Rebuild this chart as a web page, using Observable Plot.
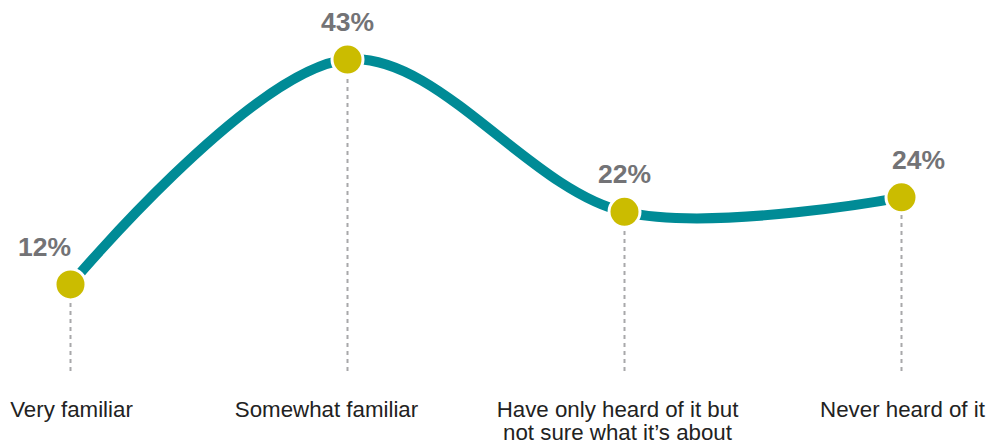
<!DOCTYPE html>
<html>
<head>
<meta charset="utf-8">
<script src="https://cdn.jsdelivr.net/npm/d3@7"></script>
<script src="https://cdn.jsdelivr.net/npm/@observablehq/plot@0.6"></script>
<style>
  html, body { margin: 0; padding: 0; background: #fff; }
  body { width: 1002px; height: 445px; overflow: hidden; }
</style>
</head>
<body>
<div id="chart"></div>
<script>
const categories = ["Very familiar", "Somewhat familiar", "Have only heard of it but\nnot sure what it\u2019s about", "Never heard of it"];
const values = [12, 43, 22, 24];
const valueLabels = ["12%", "43%", "22%", "24%"];

const data = categories.map((c, i) => ({category: c, value: values[i], label: valueLabels[i], i}));

const teal = "#008b96";
const yellow = "#cbbc00";
const gray = "#737376";
const catStyle = {x: "category", y: 0, text: "category", dy: 29.5, lineAnchor: "top", lineHeight: 1.02, fontSize: 22.3, fill: "#222"};

const chart = Plot.plot({
  width: 1002,
  height: 445,
  marginLeft: 69,
  marginRight: 101,
  marginTop: 59,
  marginBottom: 74,
  style: {fontFamily: "'Liberation Sans', Arial, Helvetica, sans-serif", background: "#fff"},
  x: {type: "point", domain: categories, padding: 0, axis: null},
  y: {domain: [0, 43], axis: null},
  marks: [
    Plot.ruleX(data, {x: "category", y1: 0, y2: "value", stroke: "#a8a8aa", strokeWidth: 2, strokeDasharray: "4,4"}),
    Plot.line(data, {x: "category", y: "value", stroke: teal, strokeWidth: 10, curve: "catmull-rom"}),
    Plot.dot(data, {x: "category", y: "value", r: 15.5, fill: yellow, stroke: "#fff", strokeWidth: 3}),
    Plot.text(data.filter(d => d.i === 0), {x: "category", y: "value", text: "label", dy: -37, dx: -26, fontSize: 26.5, fontWeight: "bold", fill: gray}),
    Plot.text(data.filter(d => d.i === 1 || d.i === 2), {x: "category", y: "value", text: "label", dy: -37, fontSize: 26.5, fontWeight: "bold", fill: gray}),
    Plot.text(data.filter(d => d.i === 3), {x: "category", y: "value", text: "label", dy: -37, dx: 17, fontSize: 26.5, fontWeight: "bold", fill: gray}),
    Plot.text(data.filter(d => d.i === 0 || d.i === 3), {...catStyle, dx: 1}),
    Plot.text(data.filter(d => d.i === 1), {...catStyle, dx: -21}),
    Plot.text(data.filter(d => d.i === 2), {...catStyle, dx: -7})
  ]
});
document.getElementById("chart").appendChild(chart);
</script>
</body>
</html>
